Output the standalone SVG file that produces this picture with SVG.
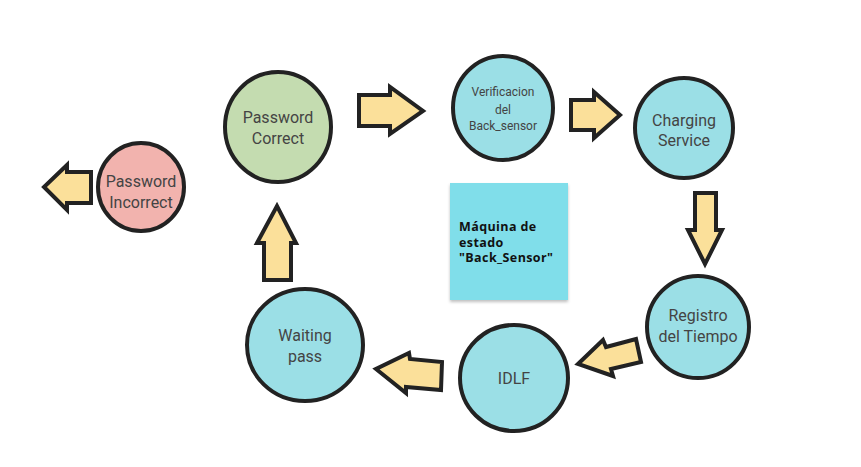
<svg xmlns="http://www.w3.org/2000/svg" width="861" height="467" viewBox="0 0 861 467">
<defs>
<filter id="sh" x="-10%" y="-10%" width="130%" height="130%"><feDropShadow dx="0" dy="2" stdDeviation="1.5" flood-color="#000" flood-opacity="0.25"/></filter>
</defs>
<style>
.st{stroke:#222;stroke-width:4}
.cy{fill:#9bdfe6}
.ar{fill:#fbe09a;stroke:#222;stroke-width:4;stroke-linejoin:miter}
.t{font-family:Roboto,"Liberation Sans",sans-serif;fill:#444;text-anchor:middle;font-size:16px}
.ts{font-size:12px}
.n{font-family:"Open Sans","Liberation Sans",sans-serif;font-weight:bold;font-size:12.5px;letter-spacing:0.4px;fill:#111}
</style>
<rect width="861" height="467" fill="#fff"/>
<g id="connectors">
<polygon class="ar" points="91,172 67,172 67,165 44,187 67,210 67,203 91,203"/>
<polygon class="ar" points="359,95 390,95 390,87 423,111 390,134 390,126 359,126"/>
<polygon class="ar" points="571,100 594,100 594,92 620,115 594,138 594,130 571,130"/>
<polygon class="ar" points="695,193 716,193 716,230 722,230 705,264 688,230 695,230"/>
<polygon class="ar" points="636,339 641,362 611,369 613,376 578,364 603,340 606,347"/>
<polygon class="ar" points="442,362 441,390 406,387 406,393 376,369 409,353 410,359"/>
<polygon class="ar" points="264,280 291,280 291,243 296,243 277,206 257,243 264,243"/>
</g>
<g id="note">
<rect x="450" y="183" width="118" height="117" fill="#80deea" filter="url(#sh)"/>
<text class="n" x="459" y="231">Máquina de</text>
<text class="n" x="459" y="246.5">estado</text>
<text class="n" x="459" y="262">"Back_Sensor"</text>
</g>
<g id="password-incorrect">
<ellipse class="st" cx="141" cy="187" rx="43" ry="44" fill="#f2b3ae"/>
<text class="t" x="141" y="187">Password</text>
<text class="t" x="141" y="208">Incorrect</text>
</g>
<g id="password-correct">
<ellipse class="st" cx="278" cy="127" rx="53" ry="55" fill="#c4dcb0"/>
<text class="t" x="278" y="123">Password</text>
<text class="t" x="278" y="144">Correct</text>
</g>
<g id="verificacion">
<ellipse class="st cy" cx="503" cy="108" rx="50" ry="52"/>
<text class="t ts" x="503" y="96">Verificacion</text>
<text class="t ts" x="503" y="114">del</text>
<text class="t ts" x="503" y="130">Back_sensor</text>
</g>
<g id="charging-service">
<ellipse class="st cy" cx="684" cy="128" rx="49" ry="50"/>
<text class="t" x="684" y="126">Charging</text>
<text class="t" x="684" y="146">Service</text>
</g>
<g id="registro">
<ellipse class="st cy" cx="698" cy="327" rx="51" ry="51"/>
<text class="t" x="698" y="321">Registro</text>
<text class="t" x="698" y="342">del Tiempo</text>
</g>
<g id="idlf">
<ellipse class="st cy" cx="514" cy="378" rx="54" ry="53"/>
<text class="t" x="514" y="384">IDLF</text>
</g>
<g id="waiting-pass">
<ellipse class="st cy" cx="305" cy="345" rx="58" ry="56"/>
<text class="t" x="305" y="341">Waiting</text>
<text class="t" x="305" y="362">pass</text>
</g>
</svg>
